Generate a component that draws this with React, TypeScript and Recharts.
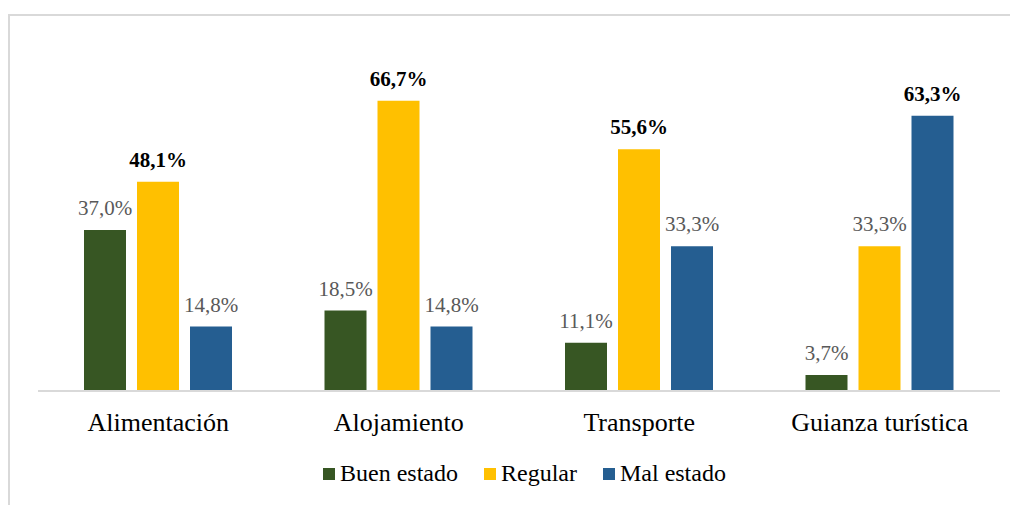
import { BarChart, Bar, XAxis, YAxis, LabelList } from 'recharts';

const categories = ['Alimentación', 'Alojamiento', 'Transporte', 'Guianza turística'];
const buenEstado = [37.0, 18.5, 11.1, 3.7];
const regular = [48.1, 66.7, 55.6, 33.3];
const malEstado = [14.8, 14.8, 33.3, 63.3];

const seriesNames = ['Buen estado', 'Regular', 'Mal estado'];
const seriesKeys = ['buen', 'regular', 'mal'];
const colors = ['#375623', '#FFC000', '#255E91'];

const FONT = '"Liberation Serif", "Times New Roman", serif';

const data = categories.map((name, i) => ({
  name,
  buen: buenEstado[i],
  regular: regular[i],
  mal: malEstado[i],
}));

// highest value of each category is shown bold
const maxOf = categories.map((_, i) => Math.max(buenEstado[i], regular[i], malEstado[i]));

const fmt = (v: number) => v.toFixed(1).replace('.', ',') + '%';

function makeLabel(key: string) {
  return (props: any) => {
    const { x, y, width, value, index } = props;
    const isMax = value === maxOf[index];
    return (
      <text
        x={x + width / 2}
        y={y - 15}
        textAnchor="middle"
        fontFamily={FONT}
        fontSize={21}
        fontWeight={isMax ? 700 : 400}
        fill={isMax ? '#000000' : '#595959'}
        key={key + index}
      >
        {fmt(value)}
      </text>
    );
  };
}

const CategoryTick = (props: any) => {
  const { x, y, payload } = props;
  return (
    <text x={x} y={y + 40} textAnchor="middle" fontFamily={FONT} fontSize={26} fill="#000000">
      {payload.value}
    </text>
  );
};

export default function App() {
  return (
    <div style={{ position: 'relative', width: 1010, height: 497, overflow: 'hidden', background: '#fff' }}>
      <div
        style={{
          position: 'absolute',
          left: 0,
          top: 6,
          width: 1200,
          height: 700,
          borderTop: '2px solid #d9d9d9',
          borderLeft: '2px solid #d9d9d9',
        }}
      />
      <div style={{ position: 'absolute', left: 0, top: 0 }}>
        <BarChart
          width={1010}
          height={497}
          data={data}
          margin={{ top: 35, right: 18, left: 30, bottom: 0 }}
          barSize={42}
          barGap={11}
        >
          <XAxis
            dataKey="name"
            height={114}
            tickLine={false}
            tickSize={0}
            tickMargin={0}
            axisLine={{ stroke: '#d9d9d9', strokeWidth: 2 }}
            tick={<CategoryTick />}
            interval={0}
          />
          <YAxis hide domain={[0, 80]} />
          {seriesKeys.map((k, i) => (
            <Bar key={k} dataKey={k} name={seriesNames[i]} fill={colors[i]} isAnimationActive={false}>
              <LabelList dataKey={k} content={makeLabel(k)} />
            </Bar>
          ))}
        </BarChart>
      </div>
      <div
        style={{
          position: 'absolute',
          top: 452,
          left: 315,
          display: 'flex',
          alignItems: 'center',
          gap: 26,
          fontFamily: FONT,
          fontSize: 24,
          color: '#000',
          whiteSpace: 'nowrap',
        }}
      >
        {seriesNames.map((n, i) => (
          <div key={n} style={{ display: 'flex', alignItems: 'center' }}>
            <span style={{ display: 'inline-block', width: 12, height: 12, background: colors[i], marginRight: 5 }} />
            <span>{n}</span>
          </div>
        ))}
      </div>
    </div>
  );
}
